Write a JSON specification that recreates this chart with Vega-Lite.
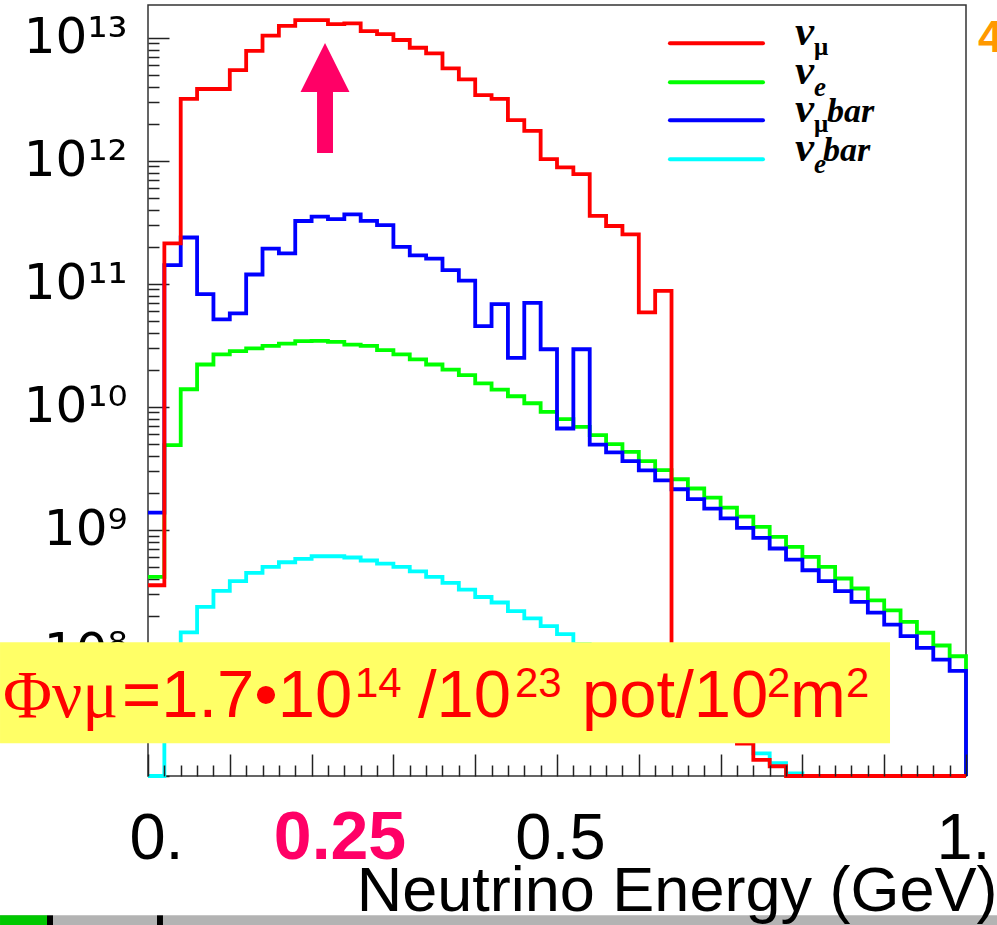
{
  "$schema": "https://vega.github.io/schema/vega-lite/v6.json",
  "width": 818,
  "height": 771,
  "autosize": {"type": "none"},
  "padding": {"left": 148, "top": 5, "right": 31, "bottom": 149},
  "background": "white",
  "config": {"view": {"stroke": "#333333", "strokeWidth": 1.5}},
  "datasets": {
    "flux": [
      {"series": "nu_mu", "E": 0, "flux": 3.55e8}, {"series": "nu_mu", "E": 0.02, "flux": 2.13e11}, {"series": "nu_mu", "E": 0.04, "flux": 3.18e12}, {"series": "nu_mu", "E": 0.06, "flux": 3.83e12}, {"series": "nu_mu", "E": 0.08, "flux": 3.83e12},
      {"series": "nu_mu", "E": 0.1, "flux": 5.46e12}, {"series": "nu_mu", "E": 0.12, "flux": 7.83e12}, {"series": "nu_mu", "E": 0.14, "flux": 1.04e13}, {"series": "nu_mu", "E": 0.16, "flux": 1.25e13}, {"series": "nu_mu", "E": 0.18, "flux": 1.39e13},
      {"series": "nu_mu", "E": 0.2, "flux": 1.39e13}, {"series": "nu_mu", "E": 0.22, "flux": 1.29e13}, {"series": "nu_mu", "E": 0.24, "flux": 1.31e13}, {"series": "nu_mu", "E": 0.26, "flux": 1.13e13}, {"series": "nu_mu", "E": 0.28, "flux": 1.07e13},
      {"series": "nu_mu", "E": 0.3, "flux": 9.58e12}, {"series": "nu_mu", "E": 0.32, "flux": 8.29e12}, {"series": "nu_mu", "E": 0.34, "flux": 7.47e12}, {"series": "nu_mu", "E": 0.36, "flux": 5.64e12}, {"series": "nu_mu", "E": 0.38, "flux": 4.59e12},
      {"series": "nu_mu", "E": 0.4, "flux": 3.42e12}, {"series": "nu_mu", "E": 0.42, "flux": 3.19e12}, {"series": "nu_mu", "E": 0.44, "flux": 2.14e12}, {"series": "nu_mu", "E": 0.46, "flux": 1.75e12}, {"series": "nu_mu", "E": 0.48, "flux": 1.03e12},
      {"series": "nu_mu", "E": 0.5, "flux": 8.83e11}, {"series": "nu_mu", "E": 0.52, "flux": 7.79e11}, {"series": "nu_mu", "E": 0.54, "flux": 3.57e11}, {"series": "nu_mu", "E": 0.56, "flux": 2.95e11}, {"series": "nu_mu", "E": 0.58, "flux": 2.52e11},
      {"series": "nu_mu", "E": 0.6, "flux": 5.85e10}, {"series": "nu_mu", "E": 0.62, "flux": 8.77e10}, {"series": "nu_mu", "E": 0.64, "flux": 4.0e7}, {"series": "nu_mu", "E": 0.66, "flux": 3.3e7}, {"series": "nu_mu", "E": 0.68, "flux": 2.7e7},
      {"series": "nu_mu", "E": 0.7, "flux": 2.2e7}, {"series": "nu_mu", "E": 0.72, "flux": 1.83e7}, {"series": "nu_mu", "E": 0.74, "flux": 1.35e7}, {"series": "nu_mu", "E": 0.76, "flux": 1.2e7}, {"series": "nu_mu", "E": 0.78, "flux": 1e7},
      {"series": "nu_mu", "E": 0.8, "flux": 1e7}, {"series": "nu_mu", "E": 0.82, "flux": 1e7}, {"series": "nu_mu", "E": 0.84, "flux": 1e7}, {"series": "nu_mu", "E": 0.86, "flux": 1e7}, {"series": "nu_mu", "E": 0.88, "flux": 1e7},
      {"series": "nu_mu", "E": 0.9, "flux": 1e7}, {"series": "nu_mu", "E": 0.92, "flux": 1e7}, {"series": "nu_mu", "E": 0.94, "flux": 1e7}, {"series": "nu_mu", "E": 0.96, "flux": 1e7}, {"series": "nu_mu", "E": 0.98, "flux": 1e7},
      {"series": "nu_mu", "E": 1, "flux": 1e7},

      {"series": "nu_e", "E": 0, "flux": 4.15e8}, {"series": "nu_e", "E": 0.02, "flux": 4.89e9}, {"series": "nu_e", "E": 0.04, "flux": 1.39e10}, {"series": "nu_e", "E": 0.06, "flux": 2.21e10}, {"series": "nu_e", "E": 0.08, "flux": 2.67e10},
      {"series": "nu_e", "E": 0.1, "flux": 2.84e10}, {"series": "nu_e", "E": 0.12, "flux": 2.99e10}, {"series": "nu_e", "E": 0.14, "flux": 3.13e10}, {"series": "nu_e", "E": 0.16, "flux": 3.27e10}, {"series": "nu_e", "E": 0.18, "flux": 3.42e10},
      {"series": "nu_e", "E": 0.2, "flux": 3.44e10}, {"series": "nu_e", "E": 0.22, "flux": 3.38e10}, {"series": "nu_e", "E": 0.24, "flux": 3.21e10}, {"series": "nu_e", "E": 0.26, "flux": 3.13e10}, {"series": "nu_e", "E": 0.28, "flux": 2.89e10},
      {"series": "nu_e", "E": 0.3, "flux": 2.67e10}, {"series": "nu_e", "E": 0.32, "flux": 2.43e10}, {"series": "nu_e", "E": 0.34, "flux": 2.21e10}, {"series": "nu_e", "E": 0.36, "flux": 2.01e10}, {"series": "nu_e", "E": 0.38, "flux": 1.81e10},
      {"series": "nu_e", "E": 0.4, "flux": 1.55e10}, {"series": "nu_e", "E": 0.42, "flux": 1.38e10}, {"series": "nu_e", "E": 0.44, "flux": 1.22e10}, {"series": "nu_e", "E": 0.46, "flux": 1.07e10}, {"series": "nu_e", "E": 0.48, "flux": 9.12e9},
      {"series": "nu_e", "E": 0.5, "flux": 7.94e9}, {"series": "nu_e", "E": 0.52, "flux": 6.88e9}, {"series": "nu_e", "E": 0.54, "flux": 5.89e9}, {"series": "nu_e", "E": 0.56, "flux": 4.98e9}, {"series": "nu_e", "E": 0.58, "flux": 4.3e9},
      {"series": "nu_e", "E": 0.6, "flux": 3.62e9}, {"series": "nu_e", "E": 0.62, "flux": 3.06e9}, {"series": "nu_e", "E": 0.64, "flux": 2.58e9}, {"series": "nu_e", "E": 0.66, "flux": 2.17e9}, {"series": "nu_e", "E": 0.68, "flux": 1.83e9},
      {"series": "nu_e", "E": 0.7, "flux": 1.52e9}, {"series": "nu_e", "E": 0.72, "flux": 1.28e9}, {"series": "nu_e", "E": 0.74, "flux": 1.06e9}, {"series": "nu_e", "E": 0.76, "flux": 8.77e8}, {"series": "nu_e", "E": 0.78, "flux": 7.28e8},
      {"series": "nu_e", "E": 0.8, "flux": 6.04e8}, {"series": "nu_e", "E": 0.82, "flux": 5.0e8}, {"series": "nu_e", "E": 0.84, "flux": 4.03e8}, {"series": "nu_e", "E": 0.86, "flux": 3.34e8}, {"series": "nu_e", "E": 0.88, "flux": 2.68e8},
      {"series": "nu_e", "E": 0.9, "flux": 2.22e8}, {"series": "nu_e", "E": 0.92, "flux": 1.79e8}, {"series": "nu_e", "E": 0.94, "flux": 1.46e8}, {"series": "nu_e", "E": 0.96, "flux": 1.15e8}, {"series": "nu_e", "E": 0.98, "flux": 9.4e7},
      {"series": "nu_e", "E": 1, "flux": 1e7},

      {"series": "nu_mu_bar", "E": 0, "flux": 1.38e9}, {"series": "nu_mu_bar", "E": 0.02, "flux": 1.42e11}, {"series": "nu_mu_bar", "E": 0.04, "flux": 2.38e11}, {"series": "nu_mu_bar", "E": 0.06, "flux": 8.24e10}, {"series": "nu_mu_bar", "E": 0.08, "flux": 5.14e10},
      {"series": "nu_mu_bar", "E": 0.1, "flux": 5.75e10}, {"series": "nu_mu_bar", "E": 0.12, "flux": 1.19e11}, {"series": "nu_mu_bar", "E": 0.14, "flux": 1.93e11}, {"series": "nu_mu_bar", "E": 0.16, "flux": 1.77e11}, {"series": "nu_mu_bar", "E": 0.18, "flux": 3.24e11},
      {"series": "nu_mu_bar", "E": 0.2, "flux": 3.51e11}, {"series": "nu_mu_bar", "E": 0.22, "flux": 3.36e11}, {"series": "nu_mu_bar", "E": 0.24, "flux": 3.67e11}, {"series": "nu_mu_bar", "E": 0.26, "flux": 3.25e11}, {"series": "nu_mu_bar", "E": 0.28, "flux": 3.0e11},
      {"series": "nu_mu_bar", "E": 0.3, "flux": 2.0e11}, {"series": "nu_mu_bar", "E": 0.32, "flux": 1.7e11}, {"series": "nu_mu_bar", "E": 0.34, "flux": 1.6e11}, {"series": "nu_mu_bar", "E": 0.36, "flux": 1.29e11}, {"series": "nu_mu_bar", "E": 0.38, "flux": 1.06e11},
      {"series": "nu_mu_bar", "E": 0.4, "flux": 4.53e10}, {"series": "nu_mu_bar", "E": 0.42, "flux": 6.84e10}, {"series": "nu_mu_bar", "E": 0.44, "flux": 2.5e10}, {"series": "nu_mu_bar", "E": 0.46, "flux": 7.01e10}, {"series": "nu_mu_bar", "E": 0.48, "flux": 2.94e10},
      {"series": "nu_mu_bar", "E": 0.5, "flux": 6.67e9}, {"series": "nu_mu_bar", "E": 0.52, "flux": 2.94e10}, {"series": "nu_mu_bar", "E": 0.54, "flux": 4.94e9}, {"series": "nu_mu_bar", "E": 0.56, "flux": 4.26e9}, {"series": "nu_mu_bar", "E": 0.58, "flux": 3.62e9},
      {"series": "nu_mu_bar", "E": 0.6, "flux": 3.05e9}, {"series": "nu_mu_bar", "E": 0.62, "flux": 2.53e9}, {"series": "nu_mu_bar", "E": 0.64, "flux": 2.14e9}, {"series": "nu_mu_bar", "E": 0.66, "flux": 1.78e9}, {"series": "nu_mu_bar", "E": 0.68, "flux": 1.49e9},
      {"series": "nu_mu_bar", "E": 0.7, "flux": 1.24e9}, {"series": "nu_mu_bar", "E": 0.72, "flux": 1.04e9}, {"series": "nu_mu_bar", "E": 0.74, "flux": 8.6e8}, {"series": "nu_mu_bar", "E": 0.76, "flux": 7.06e8}, {"series": "nu_mu_bar", "E": 0.78, "flux": 5.74e8},
      {"series": "nu_mu_bar", "E": 0.8, "flux": 4.7e8}, {"series": "nu_mu_bar", "E": 0.82, "flux": 3.83e8}, {"series": "nu_mu_bar", "E": 0.84, "flux": 3.18e8}, {"series": "nu_mu_bar", "E": 0.86, "flux": 2.6e8}, {"series": "nu_mu_bar", "E": 0.88, "flux": 2.13e8},
      {"series": "nu_mu_bar", "E": 0.9, "flux": 1.7e8}, {"series": "nu_mu_bar", "E": 0.92, "flux": 1.37e8}, {"series": "nu_mu_bar", "E": 0.94, "flux": 1.1e8}, {"series": "nu_mu_bar", "E": 0.96, "flux": 8.84e7}, {"series": "nu_mu_bar", "E": 0.98, "flux": 7.14e7},
      {"series": "nu_mu_bar", "E": 1, "flux": 1e7},

      {"series": "nu_e_bar", "E": 0, "flux": 1e7}, {"series": "nu_e_bar", "E": 0.02, "flux": 5.2e7}, {"series": "nu_e_bar", "E": 0.04, "flux": 1.47e8}, {"series": "nu_e_bar", "E": 0.06, "flux": 2.37e8}, {"series": "nu_e_bar", "E": 0.08, "flux": 3.19e8},
      {"series": "nu_e_bar", "E": 0.1, "flux": 3.83e8}, {"series": "nu_e_bar", "E": 0.12, "flux": 4.47e8}, {"series": "nu_e_bar", "E": 0.14, "flux": 5.0e8}, {"series": "nu_e_bar", "E": 0.16, "flux": 5.46e8}, {"series": "nu_e_bar", "E": 0.18, "flux": 5.81e8},
      {"series": "nu_e_bar", "E": 0.2, "flux": 6.11e8}, {"series": "nu_e_bar", "E": 0.22, "flux": 6.11e8}, {"series": "nu_e_bar", "E": 0.24, "flux": 5.97e8}, {"series": "nu_e_bar", "E": 0.26, "flux": 5.64e8}, {"series": "nu_e_bar", "E": 0.28, "flux": 5.33e8},
      {"series": "nu_e_bar", "E": 0.3, "flux": 5.0e8}, {"series": "nu_e_bar", "E": 0.32, "flux": 4.61e8}, {"series": "nu_e_bar", "E": 0.34, "flux": 4.15e8}, {"series": "nu_e_bar", "E": 0.36, "flux": 3.71e8}, {"series": "nu_e_bar", "E": 0.38, "flux": 3.27e8},
      {"series": "nu_e_bar", "E": 0.4, "flux": 2.85e8}, {"series": "nu_e_bar", "E": 0.42, "flux": 2.57e8}, {"series": "nu_e_bar", "E": 0.44, "flux": 2.19e8}, {"series": "nu_e_bar", "E": 0.46, "flux": 1.91e8}, {"series": "nu_e_bar", "E": 0.48, "flux": 1.65e8},
      {"series": "nu_e_bar", "E": 0.5, "flux": 1.42e8}, {"series": "nu_e_bar", "E": 0.52, "flux": 1.18e8}, {"series": "nu_e_bar", "E": 0.54, "flux": 9.8e7}, {"series": "nu_e_bar", "E": 0.56, "flux": 8.2e7}, {"series": "nu_e_bar", "E": 0.58, "flux": 7.0e7},
      {"series": "nu_e_bar", "E": 0.6, "flux": 5.9e7}, {"series": "nu_e_bar", "E": 0.62, "flux": 4.9e7}, {"series": "nu_e_bar", "E": 0.64, "flux": 4.1e7}, {"series": "nu_e_bar", "E": 0.66, "flux": 3.4e7}, {"series": "nu_e_bar", "E": 0.68, "flux": 2.8e7},
      {"series": "nu_e_bar", "E": 0.7, "flux": 2.3e7}, {"series": "nu_e_bar", "E": 0.72, "flux": 1.9e7}, {"series": "nu_e_bar", "E": 0.74, "flux": 1.53e7}, {"series": "nu_e_bar", "E": 0.76, "flux": 1.27e7}, {"series": "nu_e_bar", "E": 0.78, "flux": 1.05e7},
      {"series": "nu_e_bar", "E": 0.8, "flux": 1e7}, {"series": "nu_e_bar", "E": 0.82, "flux": 1e7}, {"series": "nu_e_bar", "E": 0.84, "flux": 1e7}, {"series": "nu_e_bar", "E": 0.86, "flux": 1e7}, {"series": "nu_e_bar", "E": 0.88, "flux": 1e7},
      {"series": "nu_e_bar", "E": 0.9, "flux": 1e7}, {"series": "nu_e_bar", "E": 0.92, "flux": 1e7}, {"series": "nu_e_bar", "E": 0.94, "flux": 1e7}, {"series": "nu_e_bar", "E": 0.96, "flux": 1e7}, {"series": "nu_e_bar", "E": 0.98, "flux": 1e7},
      {"series": "nu_e_bar", "E": 1, "flux": 1e7}
    ],
    "one": [{"k": 1}]
  },
  "encoding": {
    "x": {
      "type": "quantitative",
      "scale": {"domain": [0, 1], "nice": false, "zero": false},
      "axis": {
        "zindex": 1,
        "values": [0,0.02,0.04,0.06,0.08,0.1,0.12,0.14,0.16,0.18,0.2,0.22,0.24,0.26,0.28,0.3,0.32,0.34,0.36,0.38,0.4,0.42,0.44,0.46,0.48,0.5,0.52,0.54,0.56,0.58,0.6,0.62,0.64,0.66,0.68,0.7,0.72,0.74,0.76,0.78,0.8,0.82,0.84,0.86,0.88,0.9,0.92,0.94,0.96,0.98,1,0.25],
        "domain": false, "grid": false,
        "tickColor": "#222222", "tickWidth": 1.5,
        "tickSize": {"condition": {"test": "abs(datum.value*10 - round(datum.value*10)) < 0.001 || datum.value == 0.25", "value": -22}, "value": -11},
        "tickOpacity": {"condition": {"test": "datum.value == 0.25", "value": 0}, "value": 1},
        "labelExpr": "datum.value == 0 ? '0.' : datum.value == 0.25 ? '0.25' : datum.value == 0.5 ? '0.5' : datum.value == 1 ? '1.' : ''",
        "labelFont": "Liberation Sans",
        "labelFontSize": {"condition": {"test": "datum.value == 0.25", "value": 68}, "value": 65},
        "labelColor": {"condition": {"test": "datum.value == 0.25", "value": "#FF0066"}, "value": "#000000"},
        "labelFontWeight": {"condition": {"test": "datum.value == 0.25", "value": "bold"}, "value": "normal"},
        "labelOffset": {"condition": [{"test": "datum.value == 0.25", "value": -13}, {"test": "datum.value == 0", "value": 8}, {"test": "datum.value == 1", "value": -3}], "value": 3},
        "labelPadding": 104, "labelBaseline": "alphabetic", "labelAlign": "center",
        "labelFlush": false, "labelOverlap": false, "labelBound": false, "labelLimit": 400,
        "title": "Neutrino Energy (GeV)", "titleFont": "Liberation Sans", "titleFontSize": 63, "titleFontWeight": "normal", "titleColor": "#000000",
        "titleX": 849, "titleY": 134, "titleAlign": "right", "titleBaseline": "alphabetic"
      }
    },
    "y": {
      "type": "quantitative",
      "scale": {"type": "log", "domain": [1e7, 1.845e13], "nice": false},
      "axis": {
        "values": [1e7,2e7,3e7,4e7,5e7,6e7,7e7,8e7,9e7,1e8,2e8,3e8,4e8,5e8,6e8,7e8,8e8,9e8,1e9,2e9,3e9,4e9,5e9,6e9,7e9,8e9,9e9,1e10,2e10,3e10,4e10,5e10,6e10,7e10,8e10,9e10,1e11,2e11,3e11,4e11,5e11,6e11,7e11,8e11,9e11,1e12,2e12,3e12,4e12,5e12,6e12,7e12,8e12,9e12,1e13],
        "domain": false, "grid": false,
        "tickColor": "#222222", "tickWidth": 1.5,
        "tickSize": {"condition": {"test": "abs(log(datum.value)/LN10 - round(log(datum.value)/LN10)) < 0.001", "value": -21}, "value": -11},
        "labelExpr": "abs(log(datum.value)/LN10 - round(log(datum.value)/LN10)) < 0.001 && datum.value > 5e7 ? '10' + (round(log(datum.value)/LN10) == 8 ? '⁸' : round(log(datum.value)/LN10) == 9 ? '⁹' : round(log(datum.value)/LN10) == 10 ? '¹⁰' : round(log(datum.value)/LN10) == 11 ? '¹¹' : round(log(datum.value)/LN10) == 12 ? '¹²' : '¹³') : ''",
        "labelFont": "DejaVu Sans", "labelFontSize": 50, "labelColor": "#000000",
        "labelPadding": 42, "labelBaseline": "middle", "labelAlign": "right",
        "labelFlush": false, "labelOverlap": false, "labelBound": false, "labelLimit": 400,
        "title": null
      }
    }
  },
  "layer": [
    {
      "data": {"name": "flux"},
      "encoding": {
        "x": {"field": "E"},
        "y": {"field": "flux"},
        "color": {"field": "series", "type": "nominal", "scale": {"domain": ["nu_mu", "nu_e", "nu_mu_bar", "nu_e_bar"], "range": ["#FF0000", "#00FF00", "#0000FF", "#00FFFF"]}, "legend": null}
      },
      "layer": [
        {"transform": [{"filter": "datum.series == 'nu_e'"}], "mark": {"type": "line", "interpolate": "step-after", "strokeWidth": 3.8}},
        {"transform": [{"filter": "datum.series == 'nu_mu_bar'"}], "mark": {"type": "line", "interpolate": "step-after", "strokeWidth": 3.8}},
        {"transform": [{"filter": "datum.series == 'nu_e_bar'"}], "mark": {"type": "line", "interpolate": "step-after", "strokeWidth": 3.8}},
        {"transform": [{"filter": "datum.series == 'nu_mu'"}], "mark": {"type": "line", "interpolate": "step-after", "strokeWidth": 3.8}}
      ]
    },
    {
      "data": {"name": "one"},
      "mark": {"type": "rect", "color": "#FFFF66"},
      "encoding": {"x": {"datum": -0.1809}, "x2": {"datum": 0.9071}, "y": {"datum": 1.222e8}, "y2": {"datum": 1.845e7}}
    },
    {
      "data": {"name": "one"},
      "layer": [
        {"mark": {"type": "text", "text": "Φνμ", "font": "Liberation Serif", "fontSize": 67, "color": "#FF0000", "align": "left", "baseline": "alphabetic"}, "encoding": {"x": {"datum": -0.17726}, "y": {"datum": 3.0e7}}},
        {"mark": {"type": "text", "text": "=1.7•10", "font": "Liberation Sans", "fontSize": 67, "color": "#FF0000", "align": "left", "baseline": "alphabetic"}, "encoding": {"x": {"datum": -0.03178}, "y": {"datum": 3.0e7}}},
        {"mark": {"type": "text", "text": "14", "font": "Liberation Sans", "fontSize": 42, "color": "#FF0000", "align": "left", "baseline": "alphabetic", "dy": -20}, "encoding": {"x": {"datum": 0.25306}, "y": {"datum": 3.0e7}}},
        {"mark": {"type": "text", "text": "/10", "font": "Liberation Sans", "fontSize": 67, "color": "#FF0000", "align": "left", "baseline": "alphabetic"}, "encoding": {"x": {"datum": 0.33007}, "y": {"datum": 3.0e7}}},
        {"mark": {"type": "text", "text": "23", "font": "Liberation Sans", "fontSize": 42, "color": "#FF0000", "align": "left", "baseline": "alphabetic", "dy": -20}, "encoding": {"x": {"datum": 0.44866}, "y": {"datum": 3.0e7}}},
        {"mark": {"type": "text", "text": "pot/10", "font": "Liberation Sans", "fontSize": 67, "color": "#FF0000", "align": "left", "baseline": "alphabetic"}, "encoding": {"x": {"datum": 0.53056}, "y": {"datum": 3.0e7}}},
        {"mark": {"type": "text", "text": "2", "font": "Liberation Sans", "fontSize": 42, "color": "#FF0000", "align": "left", "baseline": "alphabetic", "dy": -20}, "encoding": {"x": {"datum": 0.75672}, "y": {"datum": 3.0e7}}},
        {"mark": {"type": "text", "text": "m", "font": "Liberation Sans", "fontSize": 67, "color": "#FF0000", "align": "left", "baseline": "alphabetic"}, "encoding": {"x": {"datum": 0.78484}, "y": {"datum": 3.0e7}}},
        {"mark": {"type": "text", "text": "2", "font": "Liberation Sans", "fontSize": 42, "color": "#FF0000", "align": "left", "baseline": "alphabetic", "dy": -20}, "encoding": {"x": {"datum": 0.8533}, "y": {"datum": 3.0e7}}}
      ]
    },
    {
      "data": {"name": "one"},
      "mark": {"type": "point", "shape": "M0,-1L0.445,-0.109L0.145,-0.109L0.145,1L-0.145,1L-0.145,-0.109L-0.445,-0.109Z", "size": 12100, "filled": true, "color": "#FF0066", "opacity": 1, "strokeWidth": 0},
      "encoding": {"x": {"datum": 0.2164}, "y": {"datum": 3.234e12}}
    },
    {
      "data": {"name": "one"},
      "layer": [
        {"mark": {"type": "rule", "color": "#FF0000", "strokeWidth": 4, "strokeCap": "round"}, "encoding": {"x": {"datum": 0.6381}, "x2": {"datum": 0.7518}, "y": {"datum": 9.006e12}}},
        {"mark": {"type": "rule", "color": "#00FF00", "strokeWidth": 4, "strokeCap": "round"}, "encoding": {"x": {"datum": 0.6381}, "x2": {"datum": 0.7518}, "y": {"datum": 4.339e12}}},
        {"mark": {"type": "rule", "color": "#0000FF", "strokeWidth": 4, "strokeCap": "round"}, "encoding": {"x": {"datum": 0.6381}, "x2": {"datum": 0.7518}, "y": {"datum": 2.131e12}}},
        {"mark": {"type": "rule", "color": "#00FFFF", "strokeWidth": 4, "strokeCap": "round"}, "encoding": {"x": {"datum": 0.6381}, "x2": {"datum": 0.7518}, "y": {"datum": 1.027e12}}},
        {"mark": {"type": "text", "text": "ν", "font": "Liberation Serif", "fontStyle": "italic", "fontWeight": "bold", "fontSize": 43, "color": "#000000", "align": "left", "baseline": "alphabetic", "dy": 2}, "encoding": {"x": {"datum": 0.791}, "y": {"datum": 9.006e12}}},
        {"mark": {"type": "text", "text": "ν", "font": "Liberation Serif", "fontStyle": "italic", "fontWeight": "bold", "fontSize": 43, "color": "#000000", "align": "left", "baseline": "alphabetic", "dy": 2}, "encoding": {"x": {"datum": 0.791}, "y": {"datum": 4.339e12}}},
        {"mark": {"type": "text", "text": "ν", "font": "Liberation Serif", "fontStyle": "italic", "fontWeight": "bold", "fontSize": 43, "color": "#000000", "align": "left", "baseline": "alphabetic", "dy": 2}, "encoding": {"x": {"datum": 0.791}, "y": {"datum": 2.131e12}}},
        {"mark": {"type": "text", "text": "ν", "font": "Liberation Serif", "fontStyle": "italic", "fontWeight": "bold", "fontSize": 43, "color": "#000000", "align": "left", "baseline": "alphabetic", "dy": 2}, "encoding": {"x": {"datum": 0.791}, "y": {"datum": 1.027e12}}},
        {"mark": {"type": "text", "text": "μ", "font": "Liberation Serif", "fontWeight": "bold", "fontSize": 25, "color": "#000000", "align": "left", "baseline": "alphabetic", "dx": 19, "dy": 12}, "encoding": {"x": {"datum": 0.791}, "y": {"datum": 9.006e12}}},
        {"mark": {"type": "text", "text": "e", "font": "Liberation Serif", "fontStyle": "italic", "fontWeight": "bold", "fontSize": 27, "color": "#000000", "align": "left", "baseline": "alphabetic", "dx": 19, "dy": 14}, "encoding": {"x": {"datum": 0.791}, "y": {"datum": 4.339e12}}},
        {"mark": {"type": "text", "text": "μ", "font": "Liberation Serif", "fontWeight": "bold", "fontSize": 25, "color": "#000000", "align": "left", "baseline": "alphabetic", "dx": 19, "dy": 12}, "encoding": {"x": {"datum": 0.791}, "y": {"datum": 2.131e12}}},
        {"mark": {"type": "text", "text": "e", "font": "Liberation Serif", "fontStyle": "italic", "fontWeight": "bold", "fontSize": 27, "color": "#000000", "align": "left", "baseline": "alphabetic", "dx": 19, "dy": 14}, "encoding": {"x": {"datum": 0.791}, "y": {"datum": 1.027e12}}},
        {"mark": {"type": "text", "text": "bar", "font": "Liberation Serif", "fontStyle": "italic", "fontWeight": "bold", "fontSize": 34, "color": "#000000", "align": "left", "baseline": "alphabetic", "dx": 32, "dy": 2}, "encoding": {"x": {"datum": 0.791}, "y": {"datum": 2.131e12}}},
        {"mark": {"type": "text", "text": "bar", "font": "Liberation Serif", "fontStyle": "italic", "fontWeight": "bold", "fontSize": 34, "color": "#000000", "align": "left", "baseline": "alphabetic", "dx": 28, "dy": 2}, "encoding": {"x": {"datum": 0.791}, "y": {"datum": 1.027e12}}}
      ]
    },
    {
      "data": {"name": "one"},
      "mark": {"type": "text", "text": "4", "font": "Liberation Sans", "fontWeight": "bold", "fontSize": 44, "color": "#FF9900", "align": "left", "baseline": "alphabetic"},
      "encoding": {"x": {"datum": 1.0147}, "y": {"datum": 7.65e12}}
    },
    {
      "data": {"name": "one"},
      "layer": [
        {"mark": {"type": "rect", "color": "#B3B3B3"}, "encoding": {"x": {"datum": -0.1809}, "x2": {"datum": 1.04}, "y": {"datum": 7.37e5}, "y2": {"datum": 4e5}}},
        {"mark": {"type": "rect", "color": "#00C800"}, "encoding": {"x": {"datum": -0.1809}, "x2": {"datum": -0.1235}, "y": {"datum": 7.37e5}, "y2": {"datum": 4e5}}},
        {"mark": {"type": "rect", "color": "#000000"}, "encoding": {"x": {"datum": -0.1235}, "x2": {"datum": -0.1161}, "y": {"datum": 7.37e5}, "y2": {"datum": 4e5}}},
        {"mark": {"type": "rect", "color": "#000000"}, "encoding": {"x": {"datum": 0.011}, "x2": {"datum": 0.0183}, "y": {"datum": 7.37e5}, "y2": {"datum": 4e5}}}
      ]
    }
  ]
}
